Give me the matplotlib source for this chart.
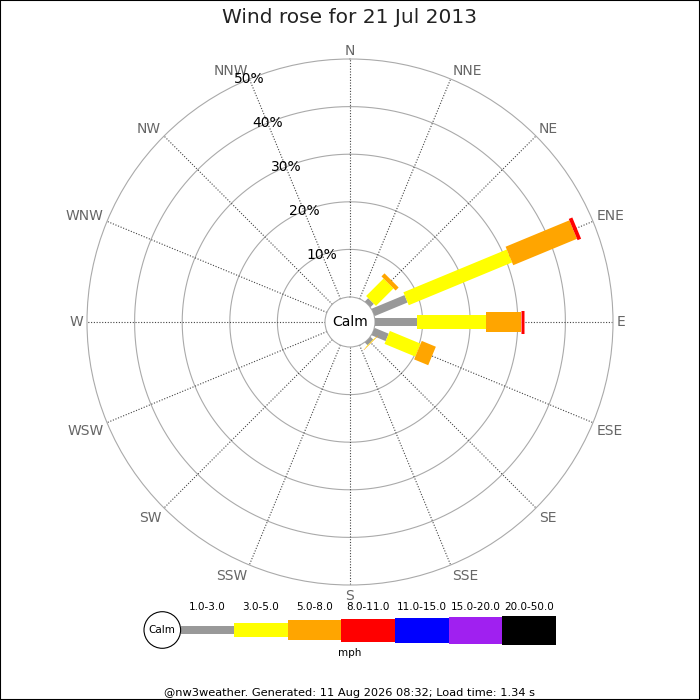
import numpy as np
import matplotlib
matplotlib.use("Agg")
import matplotlib.pyplot as plt
from matplotlib.patches import Ellipse, Rectangle

# ---------------- data ----------------
directions = ['N', 'NNE', 'NE', 'ENE', 'E', 'ESE', 'SE', 'SSE',
              'S', 'SSW', 'SW', 'WSW', 'W', 'WNW', 'NW', 'NNW']
speed_classes = ['1.0-3.0', '3.0-5.0', '5.0-8.0', '8.0-11.0',
                 '11.0-15.0', '15.0-20.0', '20.0-50.0']
class_colors = ['#999999', '#ffff00', '#ffa500', '#ff0000',
                '#0000ff', '#a020f0', '#000000']
class_widths_px = [8, 14, 20, 23, 25, 27, 29]

# percentage of time per direction for each speed class
pct_1_3   = [0, 0, 1.0,  7.5, 8.8, 3.2, 0.8, 0, 0, 0, 0, 0, 0, 0, 0, 0]
pct_3_5   = [0, 0, 5.2, 23.5, 14.5, 7.0, 0.1, 0, 0, 0, 0, 0, 0, 0, 0, 0]
pct_5_8   = [0, 0, 0.9, 14.5, 7.3, 3.2, 0.1, 0, 0, 0, 0, 0, 0, 0, 0, 0]
pct_8_11  = [0, 0, 0,    0.8, 0.7, 0,   0,   0, 0, 0, 0, 0, 0, 0, 0, 0]
pct_11_15 = [0] * 16
pct_15_20 = [0] * 16
pct_20_50 = [0] * 16
series = [pct_1_3, pct_3_5, pct_5_8, pct_8_11, pct_11_15, pct_15_20, pct_20_50]

ring_values = [10, 20, 30, 40, 50]
ring_labels = ['10%', '20%', '30%', '40%', '50%']

title = 'Wind rose for 21 Jul 2013'
units = 'mph'
footer = '@nw3weather. Generated: 11 Aug 2026 08:32; Load time: 1.34 s'

# ---------------- layout ----------------
DPI = 100
W = H = 700
fig = plt.figure(figsize=(W / DPI, H / DPI), dpi=DPI)
fig.patch.set_facecolor('white')

cx, cy = 350, 322          # rose centre (px from top-left)
R = 263                    # outer radius in px
calm_r = 25                # calm circle radius in px
rmax = 50
px_per_unit = (R - calm_r) / rmax
rorig = calm_r / px_per_unit
ring_col = '#aaaaaa'

ax = fig.add_axes([(cx - R) / W, (H - cy - R) / H, 2 * R / W, 2 * R / H],
                  projection='polar')
ax.set_theta_zero_location('N')
ax.set_theta_direction(-1)
ax.set_ylim(0, rmax)
ax.set_rorigin(-rorig)
ax.grid(False)
ax.set_xticks([])
ax.set_yticks([])
for name, s in ax.spines.items():
    s.set_color(ring_col)
    s.set_linewidth(0.8)
ax.patch.set_alpha(0)

theta = np.deg2rad(np.arange(16) * 22.5)
full = np.linspace(0, 2 * np.pi, 721)

# inner rings (outer ring and calm circle are the axes spines)
for rv in ring_values[:-1]:
    ax.plot(full, np.full_like(full, rv), color=ring_col, lw=0.8, zorder=1)

# spokes
for t in theta:
    ax.plot([t, t], [0, rmax], color='#444444', lw=0.8,
            linestyle=(0, (1, 1.5)), zorder=1)

# bars (constant pixel width rectangles)
bottom = np.zeros(16)
for vals, col, wpx in zip(series, class_colors, class_widths_px):
    vals = np.asarray(vals, dtype=float)
    mask = vals > 0
    if mask.any():
        ax.vlines(theta[mask], bottom[mask], bottom[mask] + vals[mask],
                  colors=col, linewidth=wpx * 72 / DPI, capstyle='butt',
                  zorder=3)
    bottom = bottom + vals

# ring labels along NNW
for rv, lab in zip(ring_values, ring_labels):
    ax.text(np.deg2rad(-22.5), rv, lab, ha='center', va='center',
            fontsize=10, color='black', zorder=5)

# direction labels
lab_r = rmax + 4 / px_per_unit
for t, d in zip(theta, directions):
    s, c = np.sin(t), np.cos(t)
    ha = 'left' if s > 0.1 else ('right' if s < -0.1 else 'center')
    va = 'baseline' if c > 0.1 else ('top' if c < -0.1 else 'center')
    ax.text(t, lab_r, d, ha=ha, va=va, fontsize=10, color='#666666',
            clip_on=False)

# calm
ax.text(0, -rorig, 'Calm', ha='center', va='center', fontsize=10,
        color='black', zorder=5)

# ---------------- legend ----------------
seg_w = 53.6
leg_x0 = 180.6
leg_cy = 630
leg_h = 60
lax = fig.add_axes([leg_x0 / W, (H - leg_cy - leg_h / 2) / H,
                    len(speed_classes) * seg_w / W, leg_h / H])
lax.set_xlim(0, len(speed_classes))
lax.set_ylim(-leg_h / 2, leg_h / 2)
lax.axis('off')
hts = np.array(class_widths_px, dtype=float)
lax.bar(np.arange(len(speed_classes)) + 0.5, hts, bottom=-hts / 2, width=1.0,
        color=class_colors, linewidth=0)
for i, lab in enumerate(speed_classes):
    lax.text(i + 0.5, 23, lab, ha='center', va='center', fontsize=7.5,
             color='black')
circ_r = 18.3
lax.add_patch(Ellipse((-circ_r / seg_w, 0), 2 * circ_r / seg_w, 2 * circ_r,
                      facecolor='white', edgecolor='black', lw=0.8,
                      clip_on=False))
lax.text(-circ_r / seg_w, 0, 'Calm', ha='center', va='center', fontsize=7.5,
         clip_on=False)

fig.text(0.5, 1 - 653.5 / H, units, ha='center', va='center', fontsize=7.5)
fig.text(0.5, 1 - 17.5 / H, title, ha='center', va='center', fontsize=14.5,
         color='#222222')
fig.text(0.5, 1 - 692.5 / H, footer, ha='center', va='center', fontsize=8.2,
         color='black')

fig.add_artist(Rectangle((0, 0), 1, 1, transform=fig.transFigure, fill=False,
                         edgecolor='black', lw=1.5))

fig.savefig('out.png', dpi=DPI)
